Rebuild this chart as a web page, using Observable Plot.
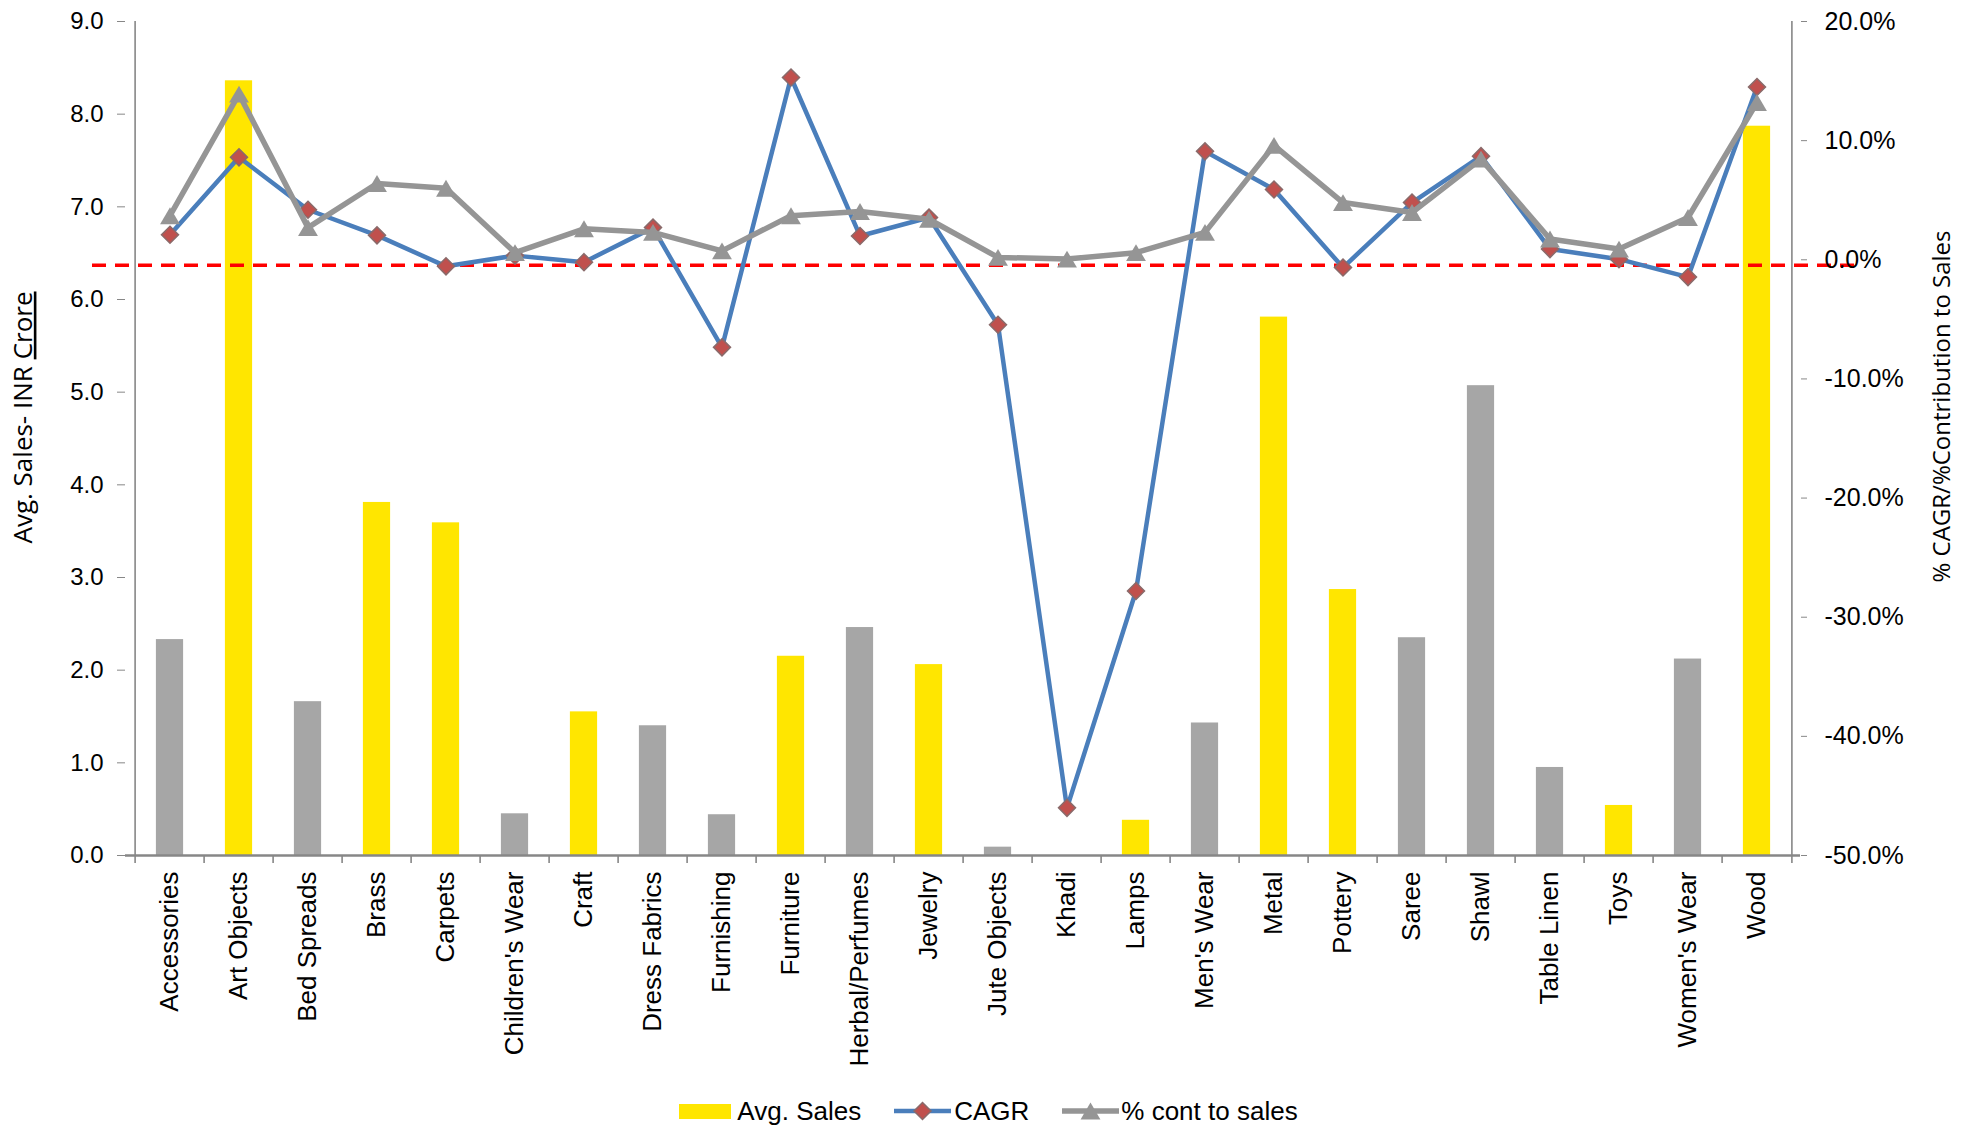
<!DOCTYPE html>
<html>
<head>
<meta charset="utf-8">
<script src="https://cdn.jsdelivr.net/npm/d3@7"></script>
<script src="https://cdn.jsdelivr.net/npm/@observablehq/plot@0.6"></script>
<style>
  html, body { margin: 0; padding: 0; background: #fff; }
  #chart { width: 1977px; }
  #legend {
    display: flex; justify-content: center; align-items: center;
    height: 34px; padding-top: 4px;
    font-family: "Liberation Sans", Arial, sans-serif; font-size: 26px; color: #000;
  }
  #legend .item { display: flex; align-items: center; }
</style>
</head>
<body>
<div id="chart"></div>
<div id="legend"></div>
<script>
// Product categories along the x axis
const categories = [
  "Accessories", "Art Objects", "Bed Spreads", "Brass", "Carpets", "Children's Wear",
  "Craft", "Dress Fabrics", "Furnishing", "Furniture", "Herbal/Perfumes", "Jewelry",
  "Jute Objects", "Khadi", "Lamps", "Men's Wear", "Metal", "Pottery", "Saree", "Shawl",
  "Table Linen", "Toys", "Women's Wear", "Wood"
];
// Average sales, INR crore (left axis)
const avgSales = [
  2.33, 8.36, 1.66, 3.81, 3.59, 0.45,
  1.55, 1.40, 0.44, 2.15, 2.46, 2.06,
  0.09, 0.00, 0.38, 1.43, 5.81, 2.87, 2.35, 5.07,
  0.95, 0.54, 2.12, 7.87
];
// Categories whose sales bar is shown in yellow
const salesHighlighted = [
  false, true, false, true, true, false,
  true, false, false, true, false, true,
  false, false, true, false, true, true, false, false,
  false, true, false, true
];
// CAGR, % (right axis)
const cagr = [
  2.1, 8.6, 4.2, 2.05, -0.55, 0.35,
  -0.2, 2.7, -7.35, 15.3, 2.0, 3.55,
  -5.45, -46.0, -27.8, 9.1, 5.9, -0.65, 4.8, 8.7,
  0.9, 0.05, -1.45, 14.5
];
// Percentage contribution to sales, % (right axis)
const contToSales = [
  3.7, 13.9, 2.7, 6.4, 6.0, 0.6,
  2.6, 2.3, 0.75, 3.7, 4.05, 3.4,
  0.2, 0.06, 0.6, 2.3, 9.6, 4.8, 3.97, 8.45,
  1.74, 0.9, 3.55, 13.2
];
const leftTicks = [0, 1, 2, 3, 4, 5, 6, 7, 8, 9];
const rightTicks = [-50, -40, -30, -20, -10, 0, 10, 20];
const cagrReference = -0.45;
const seriesNames = ["Avg. Sales", "CAGR", "% cont to sales"];
const leftTitle = "Avg. Sales- INR Crore";
const rightTitle = "% CAGR/%Contribution to Sales";

// Colours
const YELLOW = "#FFE600";
const BAR_GRAY = "#A6A6A6";
const BLUE = "#4A7EBB";
const RED_MARK = "#C0504D";
const MARK_EDGE = "#8A6A6A";
const LINE_GRAY = "#959595";
const AXIS = "#878787";

// Secondary (percent) axis mapped onto the primary sales scale
const leftMax = leftTicks[leftTicks.length - 1];
const rightDomain = [rightTicks[0], rightTicks[rightTicks.length - 1]];
const toLeft = p => (p - rightDomain[0]) / (rightDomain[1] - rightDomain[0]) * leftMax;
const fromLeft = v => v / leftMax * (rightDomain[1] - rightDomain[0]) + rightDomain[0];
const pctFormat = v => { const p = Math.round(fromLeft(v) * 10) / 10; return (p === 0 ? 0 : p).toFixed(1) + "%"; };

const rows = categories.map((category, i) => ({
  category, sales: avgSales[i], highlighted: salesHighlighted[i],
  cagr: cagr[i], cont: contToSales[i]
}));

const W = 1977, H = 1090, mL = 125, mR = 177, mT = 21, mB = 235;
const step = (W - mL - mR) / categories.length;
const barInset = (step - 28) / 2;

// Marker shapes: square diamond and a triangle centred on its bounding box
const diamondSymbol = {
  draw(ctx, size) {
    const h = Math.sqrt(size) * 0.6;
    ctx.moveTo(0, -h); ctx.lineTo(h, 0); ctx.lineTo(0, h); ctx.lineTo(-h, 0); ctx.closePath();
  }
};
const triangleSymbol = {
  draw(ctx, size) {
    const a = Math.sqrt(size) * 0.7;
    ctx.moveTo(0, -0.85 * a); ctx.lineTo(a, 0.85 * a); ctx.lineTo(-a, 0.85 * a); ctx.closePath();
  }
};

const chart = Plot.plot({
  width: W, height: H,
  marginLeft: mL, marginRight: mR, marginTop: mT, marginBottom: mB,
  style: { fontFamily: "Liberation Sans, Arial, sans-serif", background: "#fff", color: "#000" },
  x: { type: "band", domain: categories, padding: 0 },
  y: { domain: [0, leftMax] },
  color: { type: "identity" },
  marks: [
    Plot.barY(rows, {
      x: "category", y: "sales",
      fill: d => d.highlighted ? YELLOW : BAR_GRAY,
      insetLeft: barInset, insetRight: barInset
    }),
    // axis lines and category boundary ticks
    Plot.ruleY([0], { stroke: AXIS, strokeWidth: 2.5 }),
    Plot.ruleX([categories[0]], { x: d => d, dx: -step / 2, stroke: AXIS, strokeWidth: 1.6, insetBottom: -8 }),
    Plot.ruleX([categories[categories.length - 1]], { x: d => d, dx: step / 2, stroke: AXIS, strokeWidth: 1.6, insetBottom: -8 }),
    Plot.ruleX(categories.slice(1), { x: d => d, y1: 0, y2: 0, dx: -step / 2, stroke: AXIS, strokeWidth: 1.6, insetBottom: -8 }),
    // zero-growth reference
    Plot.ruleY([cagrReference], {
      y: d => toLeft(d), stroke: "#FF0000", strokeWidth: 3.5, strokeDasharray: "14,9",
      insetLeft: -33, insetRight: -57
    }),
    // CAGR series
    Plot.lineY(rows, { x: "category", y: d => toLeft(d.cagr), stroke: BLUE, strokeWidth: 4.5, strokeLinejoin: "round" }),
    Plot.dot(rows, { x: "category", y: d => toLeft(d.cagr), symbol: diamondSymbol, r: 8, fill: RED_MARK, stroke: MARK_EDGE, strokeWidth: 1.5 }),
    // contribution to sales series
    Plot.lineY(rows, { x: "category", y: d => toLeft(d.cont), stroke: LINE_GRAY, strokeWidth: 5.5, strokeLinejoin: "round" }),
    Plot.dot(rows, { x: "category", y: d => toLeft(d.cont), symbol: triangleSymbol, r: 8, fill: LINE_GRAY, stroke: "none" }),
    // axes
    Plot.axisY(leftTicks, {
      anchor: "left", tickFormat: d3.format(".1f"), tickSize: 8, tickPadding: 14,
      fontSize: 24, stroke: AXIS, fill: "#000", label: null
    }),
    Plot.axisY(rightTicks.map(toLeft), {
      anchor: "right", tickFormat: pctFormat, tickSize: 6, tickPadding: 18,
      fontSize: 25, stroke: AXIS, fill: "#000", label: null
    }),
    Plot.axisX({ tickSize: 0, tickRotate: -90, tickPadding: 16, fontSize: 26, fill: "#000", label: null }),
    // axis titles
    Plot.text([leftTitle], {
      text: d => d, frameAnchor: "left", textAnchor: "middle", dx: -102, dy: -21, rotate: -90,
      fontSize: 26, fontFamily: "Open Sans, sans-serif", fill: "#000"
    }),
    Plot.text([rightTitle], {
      text: d => d, frameAnchor: "right", textAnchor: "middle", dx: 142, dy: -32, rotate: -90,
      fontSize: 24, fontFamily: "Open Sans, sans-serif", fill: "#000"
    })
  ]
});

// underline the unit word in the left axis title
chart.querySelectorAll("text").forEach(t => {
  if (t.textContent === leftTitle) {
    const cut = leftTitle.lastIndexOf(" ") + 1;
    t.textContent = "";
    const ns = "http://www.w3.org/2000/svg";
    const a = document.createElementNS(ns, "tspan");
    a.textContent = leftTitle.slice(0, cut);
    const b = document.createElementNS(ns, "tspan");
    b.textContent = leftTitle.slice(cut);
    b.setAttribute("style", "text-decoration: underline; text-decoration-color: #8B1A1A;");
    t.appendChild(a); t.appendChild(b);
  }
});

document.getElementById("chart").appendChild(chart);

// legend
const legend = d3.select("#legend");
const swatchColors = [YELLOW, BLUE, LINE_GRAY];
seriesNames.forEach((name, i) => {
  const item = legend.append("div").attr("class", "item").style("margin-left", i === 0 ? "0px" : "33px");
  if (i === 0) {
    item.append("span").style("display", "inline-block").style("width", "52px").style("height", "15px")
      .style("background", swatchColors[i]);
    item.append("span").style("margin-left", "6px").text(name);
  } else {
    const svg = item.append("svg").attr("width", 57).attr("height", 22);
    svg.append("line").attr("x1", 0).attr("x2", 57).attr("y1", 11).attr("y2", 11)
      .attr("stroke", swatchColors[i]).attr("stroke-width", i === 1 ? 4.5 : 5.5);
    const sym = i === 1 ? diamondSymbol : triangleSymbol;
    svg.append("path").attr("transform", "translate(28.5,11)")
      .attr("d", d3.symbol(sym, Math.PI * 64)())
      .attr("fill", i === 1 ? RED_MARK : LINE_GRAY)
      .attr("stroke", i === 1 ? MARK_EDGE : "none").attr("stroke-width", 1.5);
    item.append("span").style("margin-left", i === 1 ? "3px" : "2px").text(name);
  }
});
</script>
</body>
</html>
